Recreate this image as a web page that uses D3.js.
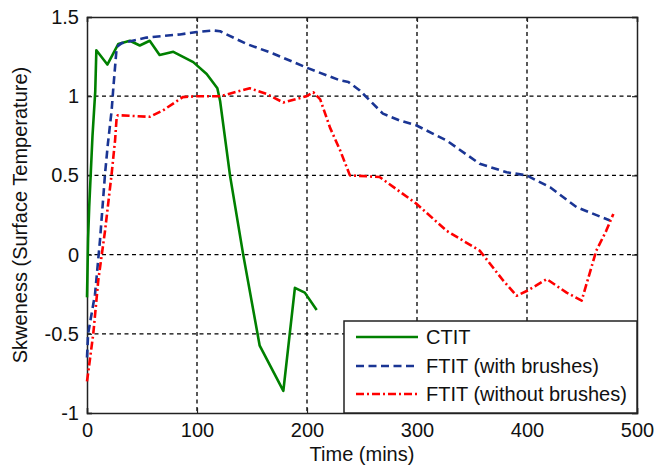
<!DOCTYPE html>
<html>
<head>
<meta charset="utf-8">
<script src="https://cdn.jsdelivr.net/npm/d3@7"></script>
<style>
  body { margin: 0; background: #fff; }
  text { font-family: "Liberation Sans", Arial, sans-serif; fill: #111; }
</style>
</head>
<body>
<svg id="chart" width="654" height="468"></svg>
<script>
// data
var xTicks = [0, 100, 200, 300, 400, 500];
var yTicks = [-1, -0.5, 0, 0.5, 1, 1.5];
var yTickLabels = ['-1', '-0.5', '0', '0.5', '1', '1.5'];

var ctitT = [0, 1, 2, 5, 7.5, 8.5, 18.5, 28.5, 39, 48, 57, 66, 78.5, 96.6, 108.8, 118.5, 121, 130, 142, 157, 178.5, 189, 198, 208.8];
var ctitV = [-0.27, 0.1, 0.3, 0.75, 1.03, 1.29, 1.2, 1.33, 1.35, 1.32, 1.35, 1.26, 1.28, 1.215, 1.14, 1.05, 0.97, 0.5, 0, -0.575, -0.86, -0.21, -0.24, -0.35];

var withT = [0, 1, 7.3, 11.8, 16.4, 19, 22.4, 23.9, 27, 31.5, 54, 84.5, 99.7, 115, 121, 145, 169, 199.7, 230, 237.6, 248, 269, 284.5, 299.7, 327, 357, 381.5, 399.7, 421, 445, 475.5];
var withV = [-0.65, -0.5, -0.25, 0.09, 0.51, 0.7, 0.91, 1.05, 1.31, 1.335, 1.37, 1.39, 1.405, 1.415, 1.41, 1.33, 1.27, 1.18, 1.1, 1.09, 1.036, 0.89, 0.846, 0.815, 0.72, 0.573, 0.52, 0.5, 0.425, 0.3, 0.215];

var withoutT = [0, 1, 5.7, 10.3, 16.4, 22.4, 25.5, 27, 28, 57, 69, 87, 99.7, 121, 148, 163, 178.5, 199.7, 205.7, 212, 221, 230, 239, 266, 299.7, 327, 357, 378.5, 390.6, 399.7, 418, 436, 449.7, 463, 472, 478.5];
var withoutV = [-0.8, -0.75, -0.5, -0.16, 0.15, 0.51, 0.72, 0.87, 0.88, 0.87, 0.91, 0.994, 1.0, 1.0, 1.05, 1.015, 0.96, 1.0, 1.025, 0.98, 0.8, 0.66, 0.5, 0.49, 0.32, 0.15, 0.025, -0.165, -0.26, -0.23, -0.155, -0.24, -0.29, 0.025, 0.15, 0.257];

var seriesNames = ['CTIT', 'FTIT (with brushes)', 'FTIT (without brushes)'];

var svg = d3.select('#chart');
var pLeft = 87, pRight = 637, pTop = 17, pBottom = 413;

var x = d3.scaleLinear().domain([0, 500]).range([pLeft, pRight]);
var y = d3.scaleLinear().domain([-1, 1.5]).range([pBottom, pTop]);

// grid
var grid = svg.append('g');
grid.selectAll('line.gx').data(xTicks.slice(1, -1)).enter().append('line')
  .attr('x1', d => x(d)).attr('x2', d => x(d))
  .attr('y1', pTop).attr('y2', pBottom)
  .attr('stroke', '#000').attr('stroke-width', 1.3).attr('stroke-dasharray', '4,3.5');
grid.selectAll('line.gy').data(yTicks.slice(1, -1)).enter().append('line')
  .attr('x1', pLeft).attr('x2', pRight)
  .attr('y1', d => y(d)).attr('y2', d => y(d))
  .attr('stroke', '#000').attr('stroke-width', 1.3).attr('stroke-dasharray', '4,3.5');

// axes with inward ticks
var fs = '20px';
svg.append('g').attr('transform', 'translate(0,' + pBottom + ')')
  .call(d3.axisBottom(x).tickValues(xTicks).tickSize(-5).tickPadding(10).tickFormat(d3.format('d')));
svg.append('g').attr('transform', 'translate(' + pLeft + ',0)')
  .call(d3.axisLeft(y).tickValues(yTicks).tickSize(-5).tickPadding(8).tickFormat((d, i) => yTickLabels[i]));
svg.append('g').attr('transform', 'translate(0,' + pTop + ')')
  .call(d3.axisTop(x).tickValues(xTicks).tickSize(-5).tickFormat(''));
svg.append('g').attr('transform', 'translate(' + pRight + ',0)')
  .call(d3.axisRight(y).tickValues(yTicks).tickSize(-5).tickFormat(''));

svg.selectAll('.domain').attr('stroke', '#222').attr('stroke-width', 1.5);
svg.selectAll('.tick line').attr('stroke', '#222').attr('stroke-width', 1.2);
svg.selectAll('.tick text').attr('font-size', fs).attr('font-family', '"Liberation Sans", Arial, sans-serif').attr('fill', '#111');

// lines
var line = d3.line().x(d => x(d[0])).y(d => y(d[1]));
function pts(ts, vs) { return ts.map((t, i) => [t, vs[i]]); }

var styles = [
  { color: '#008000', dash: null },
  { color: '#1a3594', dash: '8,4.5' },
  { color: '#ff0000', dash: '8,3,2,3' }
];
var data = [pts(ctitT, ctitV), pts(withT, withV), pts(withoutT, withoutV)];

data.forEach(function (d, i) {
  svg.append('path')
    .attr('d', line(d))
    .attr('fill', 'none')
    .attr('stroke', styles[i].color)
    .attr('stroke-width', 2.6)
    .attr('stroke-linejoin', 'round')
    .attr('stroke-dasharray', styles[i].dash);
});

// legend
var lg = svg.append('g');
lg.append('rect').attr('x', 344).attr('y', 321).attr('width', pRight - 344).attr('height', pBottom - 321)
  .attr('fill', '#fff').attr('stroke', '#222').attr('stroke-width', 1.5);
var rowsY = [337, 366, 394];
seriesNames.forEach(function (name, i) {
  lg.append('line').attr('x1', 356).attr('x2', 418).attr('y1', rowsY[i]).attr('y2', rowsY[i])
    .attr('stroke', styles[i].color).attr('stroke-width', 2.6)
    .attr('stroke-dasharray', styles[i].dash);
  lg.append('text').attr('x', 426).attr('y', rowsY[i]).attr('dy', '0.36em')
    .attr('font-size', fs).text(name);
});

// axis labels
svg.append('text').attr('x', (pLeft + pRight) / 2).attr('y', 461)
  .attr('text-anchor', 'middle').attr('font-size', fs).text('Time (mins)');
svg.append('text').attr('transform', 'translate(27,' + ((pTop + pBottom) / 2) + ') rotate(-90)')
  .attr('text-anchor', 'middle').attr('font-size', fs).text('Skweness (Surface Temperature)');
</script>
</body>
</html>
